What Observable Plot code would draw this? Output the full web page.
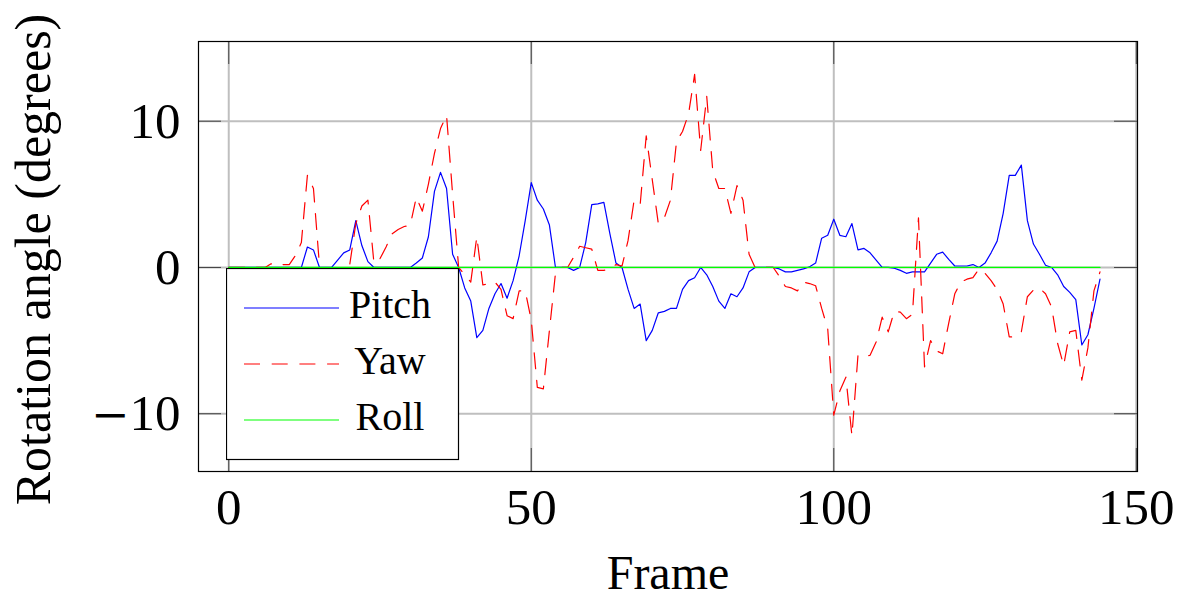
<!DOCTYPE html>
<html>
<head>
<meta charset="utf-8">
<script src="https://cdn.jsdelivr.net/npm/d3@7"></script>
<script src="https://cdn.jsdelivr.net/npm/@observablehq/plot@0.6"></script>
<style>
  body { margin: 0; background: #fff; }
  #wrap { position: relative; width: 1179px; height: 598px; font-family: "Liberation Serif", "Times New Roman", serif; }
  #legend { position: absolute; left: 226px; top: 268px; }
</style>
</head>
<body>
<div id="wrap"></div>
<script>
// ---- data (one value per frame, frames 0..144) ----
const pitch = [
  0,0,0,0,0,0,0,0,0,0,
  0,0,0,1.4,1.2,0,0,0,0.5,1.0,
  1.2,3.2,1.5,0.4,0,0,0,0,0,0,
  0,0.3,0.65,2.1,5.2,6.5,5.4,0.9,0,-1.4,
  -2.3,-4.8,-4.3,-2.8,-1.8,-1.1,-2.1,-0.9,0.8,3.2,
  5.8,4.6,4.0,2.9,0,0,0,-0.2,0,1.7,
  4.3,4.35,4.45,2.3,0.3,0,-1.5,-2.8,-2.5,-5.0,
  -4.3,-3.1,-3.0,-2.8,-2.8,-1.5,-0.9,-0.7,0,-0.5,
  -1.3,-2.3,-2.8,-1.8,-2.0,-1.4,-0.3,0,0,0,
  0,-0.1,-0.3,-0.3,-0.2,-0.1,0.05,0.3,2.0,2.2,
  3.3,2.2,2.1,3.0,1.2,1.3,1.0,0.5,0,0,
  -0.05,-0.2,-0.4,-0.3,-0.3,-0.3,0.3,0.9,1.05,0.55,
  0.1,0.1,0.1,0.2,0,0.3,1.0,1.8,3.7,6.3,
  6.3,7.0,3.2,1.6,0.9,0.15,0,-0.5,-1.3,-1.7,
  -2.2,-5.3,-4.6,-2.8,-0.8
];
const yaw = [
  0,0,0,0,0,0,0,0.25,0.2,0.2,
  0.2,0.8,1.7,6.3,5.4,0.1,-1.0,-1.5,-1.0,-0.5,
  0.2,3.0,4.2,4.6,0.3,0.6,1.4,2.3,2.6,2.8,
  2.9,4.8,3.85,5.7,7.8,9.5,10.4,5.0,0,-0.5,
  -1.0,2.1,-1.2,-1.1,-1.0,-1.5,-3.3,-3.5,-1.6,-1.6,
  -3.6,-8.2,-8.3,-4.3,-0.4,0,0,0.7,1.45,1.35,
  1.25,-0.2,-0.2,-0.1,0.2,0.1,1.85,4.6,4.3,9.0,
  6.0,3.0,3.4,4.6,8.6,9.3,10.5,13.2,8.0,11.7,
  6.6,5.4,5.4,3.7,5.6,4.6,0.9,0,0,0,
  0,-0.6,-1.3,-1.4,-1.6,-1.0,-1.1,-1.25,-2.8,-4.2,
  -10.1,-8.45,-7.5,-11.5,-6.0,-6.1,-6.0,-5.1,-3.4,-4.4,
  -3.0,-3.05,-3.5,-3.2,3.4,-6.8,-5.0,-5.7,-5.9,-3.8,
  -1.8,-1.0,-0.8,-0.7,-0.1,-0.4,-0.9,-1.5,-2.5,-4.75,
  -4.75,-4.4,-2.0,-1.55,-1.4,-1.8,-2.7,-5.2,-6.7,-4.4,
  -4.3,-7.7,-5.5,-1.6,-0.3
];
const roll = [
  0,0,0,0,0,0,0,0,0,0,
  0,0,0,0,0,0,0,0,0,0,
  0,0,0,0,0,0,0,0,0,0,
  0,0,0,0,0,0,0,0,0,0,
  0,0,0,0,0,0,0,0,0,0,
  0,0,0,0,0,0,0,0,0,0,
  0,0,0,0,0,0,0,0,0,0,
  0,0,0,0,0,0,0,0,0,0,
  0,0,0,0,0,0,0,0,0,0,
  0,0,0,0,0,0,0,0,0,0,
  0,0,0,0,0,0,0,0,0,0,
  0,0,0,0,0,0,0,0,0,0,
  0,0,0,0,0,0,0,0,0,0,
  0,0,0,0,0,0,0,0,0,0,
  0,0,0,0,0
];
const seriesNames = ["Pitch", "Yaw", "Roll"];
const seriesColors = ["#0000ff", "#ff0000", "#00ff00"];
const seriesDash = [null, "16,11.7", null];
const xTicks = [0, 50, 100, 150];
const yTicks = [-10, 0, 10];
const xLabel = "Frame";
const yLabel = "Rotation angle (degrees)";

// ---- build ----
const rows = pitch.map((p, i) => ({frame: i, pitch: p, yaw: yaw[i], roll: roll[i]}));
const keys = ["pitch", "yaw", "roll"];

const W = 1179, H = 598, ML = 198, MR = 42, MT = 41, MB = 127;
const plotW = W - ML - MR, plotH = H - MT - MB;
const tickLen = 23;
const FS = 51, LFS = 48;
const fmt = d => d < 0 ? "\u2212" + Math.abs(d) : String(d);

const chart = Plot.plot({
  width: W, height: H,
  marginLeft: ML, marginRight: MR, marginTop: MT, marginBottom: MB,
  style: {fontFamily: '"Liberation Serif", "Times New Roman", serif', fontSize: FS + "px", background: "#fff", color: "#000", overflow: "visible"},
  x: {domain: [-5, 150.2]},
  y: {domain: [-13.95, 15.45]},
  marks: [
    Plot.gridX(xTicks, {stroke: "#bfbfbf", strokeOpacity: 1, strokeWidth: 2}),
    Plot.gridY(yTicks, {stroke: "#bfbfbf", strokeOpacity: 1, strokeWidth: 2}),
    Plot.tickX(xTicks, {x: d => d, insetTop: plotH - tickLen, stroke: "#444", strokeWidth: 1}),
    Plot.tickX(xTicks, {x: d => d, insetBottom: plotH - tickLen, stroke: "#444", strokeWidth: 1}),
    Plot.tickY(yTicks, {y: d => d, insetRight: plotW - tickLen, stroke: "#444", strokeWidth: 1}),
    Plot.tickY(yTicks, {y: d => d, insetLeft: plotW - tickLen, stroke: "#444", strokeWidth: 1}),
    ...keys.map((k, i) => Plot.line(rows, {
      x: "frame", y: k, stroke: seriesColors[i], strokeWidth: 1.2,
      strokeDasharray: seriesDash[i] || undefined
    })),
    Plot.frame({stroke: "#000", strokeWidth: 1.2}),
    Plot.axisX(xTicks, {tickSize: 0, tickPadding: 16, fontSize: FS, label: null, tickFormat: fmt}),
    Plot.axisY(yTicks, {tickSize: 0, tickPadding: 18, fontSize: FS, label: null, tickFormat: fmt}),
    Plot.text([xLabel], {text: d => d, frameAnchor: "bottom", textAnchor: "middle", lineAnchor: "bottom", dy: 117, fontSize: LFS}),
    Plot.text([yLabel], {text: d => d, frameAnchor: "left", textAnchor: "middle", lineAnchor: "bottom", rotate: -90, dx: -149, dy: 3, fontSize: 50})
  ]
});

const wrap = document.getElementById("wrap");
wrap.appendChild(chart);

// TeX-like wider minus sign on negative tick labels
d3.select(chart).selectAll("text").each(function() {
  const t = this.textContent;
  if (t.startsWith("\u2212")) {
    const el = d3.select(this);
    const rest = t.slice(1);
    const tsp = el.selectAll("tspan");
    if (!tsp.empty()) {
      tsp.each(function() {
        const s = d3.select(this);
        if (s.text().startsWith("\u2212")) {
          s.text(null);
          s.append("tspan").attr("font-family", "DejaVu Serif").attr("font-size", 46).text("\u2212");
          s.append("tspan").text(rest);
        }
      });
    } else {
      el.text(null);
      el.append("tspan").attr("font-family", "DejaVu Serif").attr("font-size", 46).text("\u2212");
      el.append("tspan").text(rest);
    }
  }
});

// ---- legend (inside the axes, lower-left) ----
const lg = d3.select(wrap).append("div").attr("id", "legend")
  .append("svg").attr("width", 234).attr("height", 194)
  .style("font-family", '"Liberation Serif", "Times New Roman", serif');
lg.append("rect").attr("x", 0.5).attr("y", 0.5).attr("width", 232).attr("height", 191)
  .attr("fill", "#fff").attr("stroke", "#000").attr("stroke-width", 1.2);
const rowY = [40, 96, 152];
seriesNames.forEach((name, i) => {
  lg.append("line").attr("x1", 18).attr("x2", 113).attr("y1", rowY[i]).attr("y2", rowY[i])
    .attr("stroke", seriesColors[i]).attr("stroke-width", 1.2)
    .attr("stroke-dasharray", seriesDash[i]);
  lg.append("text").attr("x", 164).attr("y", rowY[i] + 10).attr("text-anchor", "middle")
    .attr("font-size", 40).attr("fill", "#000").text(name);
});
</script>
</body>
</html>
